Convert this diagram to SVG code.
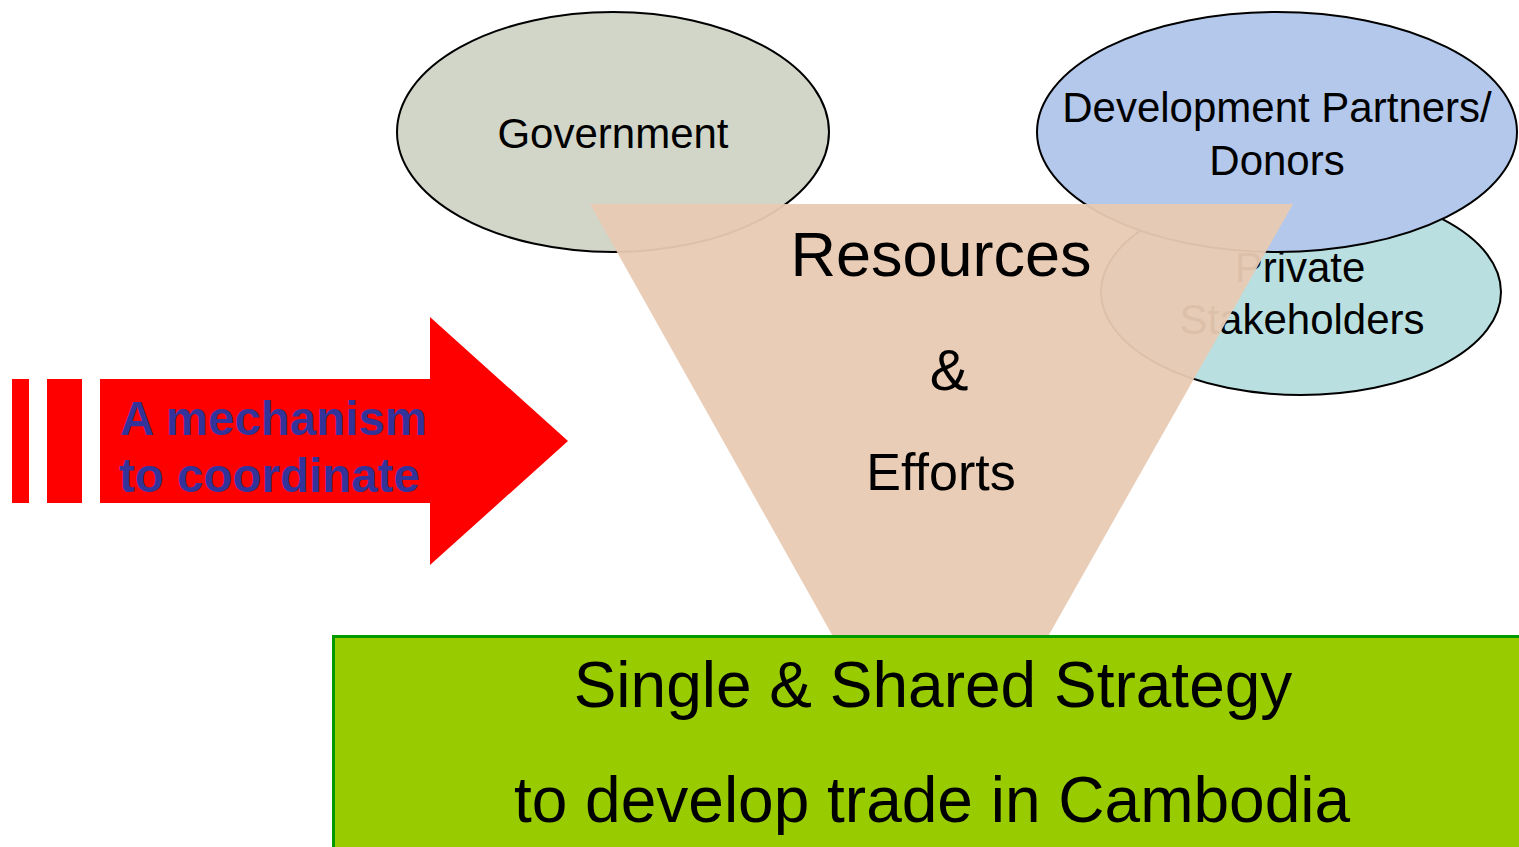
<svg xmlns="http://www.w3.org/2000/svg" width="1519" height="847" viewBox="0 0 1519 847">
<style>
.ell{stroke:#000;stroke-width:2}
.t{font-family:"Liberation Sans",Arial,sans-serif;fill:#000;text-anchor:middle}
.b{font-family:"Liberation Sans",Arial,sans-serif;font-weight:bold;fill:#333399}
</style>
<rect width="1519" height="847" fill="#fff"/>
<g id="private">
<ellipse class="ell" cx="1301" cy="292" rx="200" ry="103" fill="#B9DFE1"/>
<text class="t" x="1300" y="282" font-size="42">Private</text>
<text class="t" x="1302" y="334" font-size="42">Stakeholders</text>
</g>
<g id="government">
<ellipse class="ell" cx="613" cy="132" rx="216" ry="120" fill="#D1D6C9"/>
<text class="t" x="613" y="148" font-size="42">Government</text>
</g>
<g id="donors">
<ellipse class="ell" cx="1277" cy="132" rx="240" ry="120" fill="#B3C8EA"/>
<text class="t" x="1277" y="122" font-size="42">Development Partners/</text>
<text class="t" x="1277" y="175" font-size="42">Donors</text>
</g>
<g id="funnel">
<polygon points="590,204 1293,204 1046,640 835,640" fill="#E8CAB3" fill-opacity="0.95"/>
<text class="t" x="941" y="276" font-size="63">Resources</text>
<text class="t" x="949" y="390" font-size="58">&amp;</text>
<text class="t" x="941" y="490" font-size="52">Efforts</text>
</g>
<g id="arrow">
<rect x="12" y="379" width="17" height="124" fill="#FF0000"/>
<rect x="47" y="379" width="35" height="124" fill="#FF0000"/>
<polygon points="100,379 430,379 430,317 568,441 430,565 430,503 100,503" fill="#FF0000"/>
<text class="b" x="120" y="435" font-size="47.5">A mechanism</text>
<text class="b" x="119" y="492" font-size="47.5">to coordinate</text>
</g>
<g id="strategy">
<rect x="333.5" y="636.5" width="1190" height="215" fill="#99CC00" stroke="#009900" stroke-width="3"/>
<text class="t" x="933" y="707" font-size="64">Single &amp; Shared Strategy</text>
<text class="t" x="932" y="822" font-size="64">to develop trade in Cambodia</text>
</g>
<g id="connectors"></g>
</svg>
